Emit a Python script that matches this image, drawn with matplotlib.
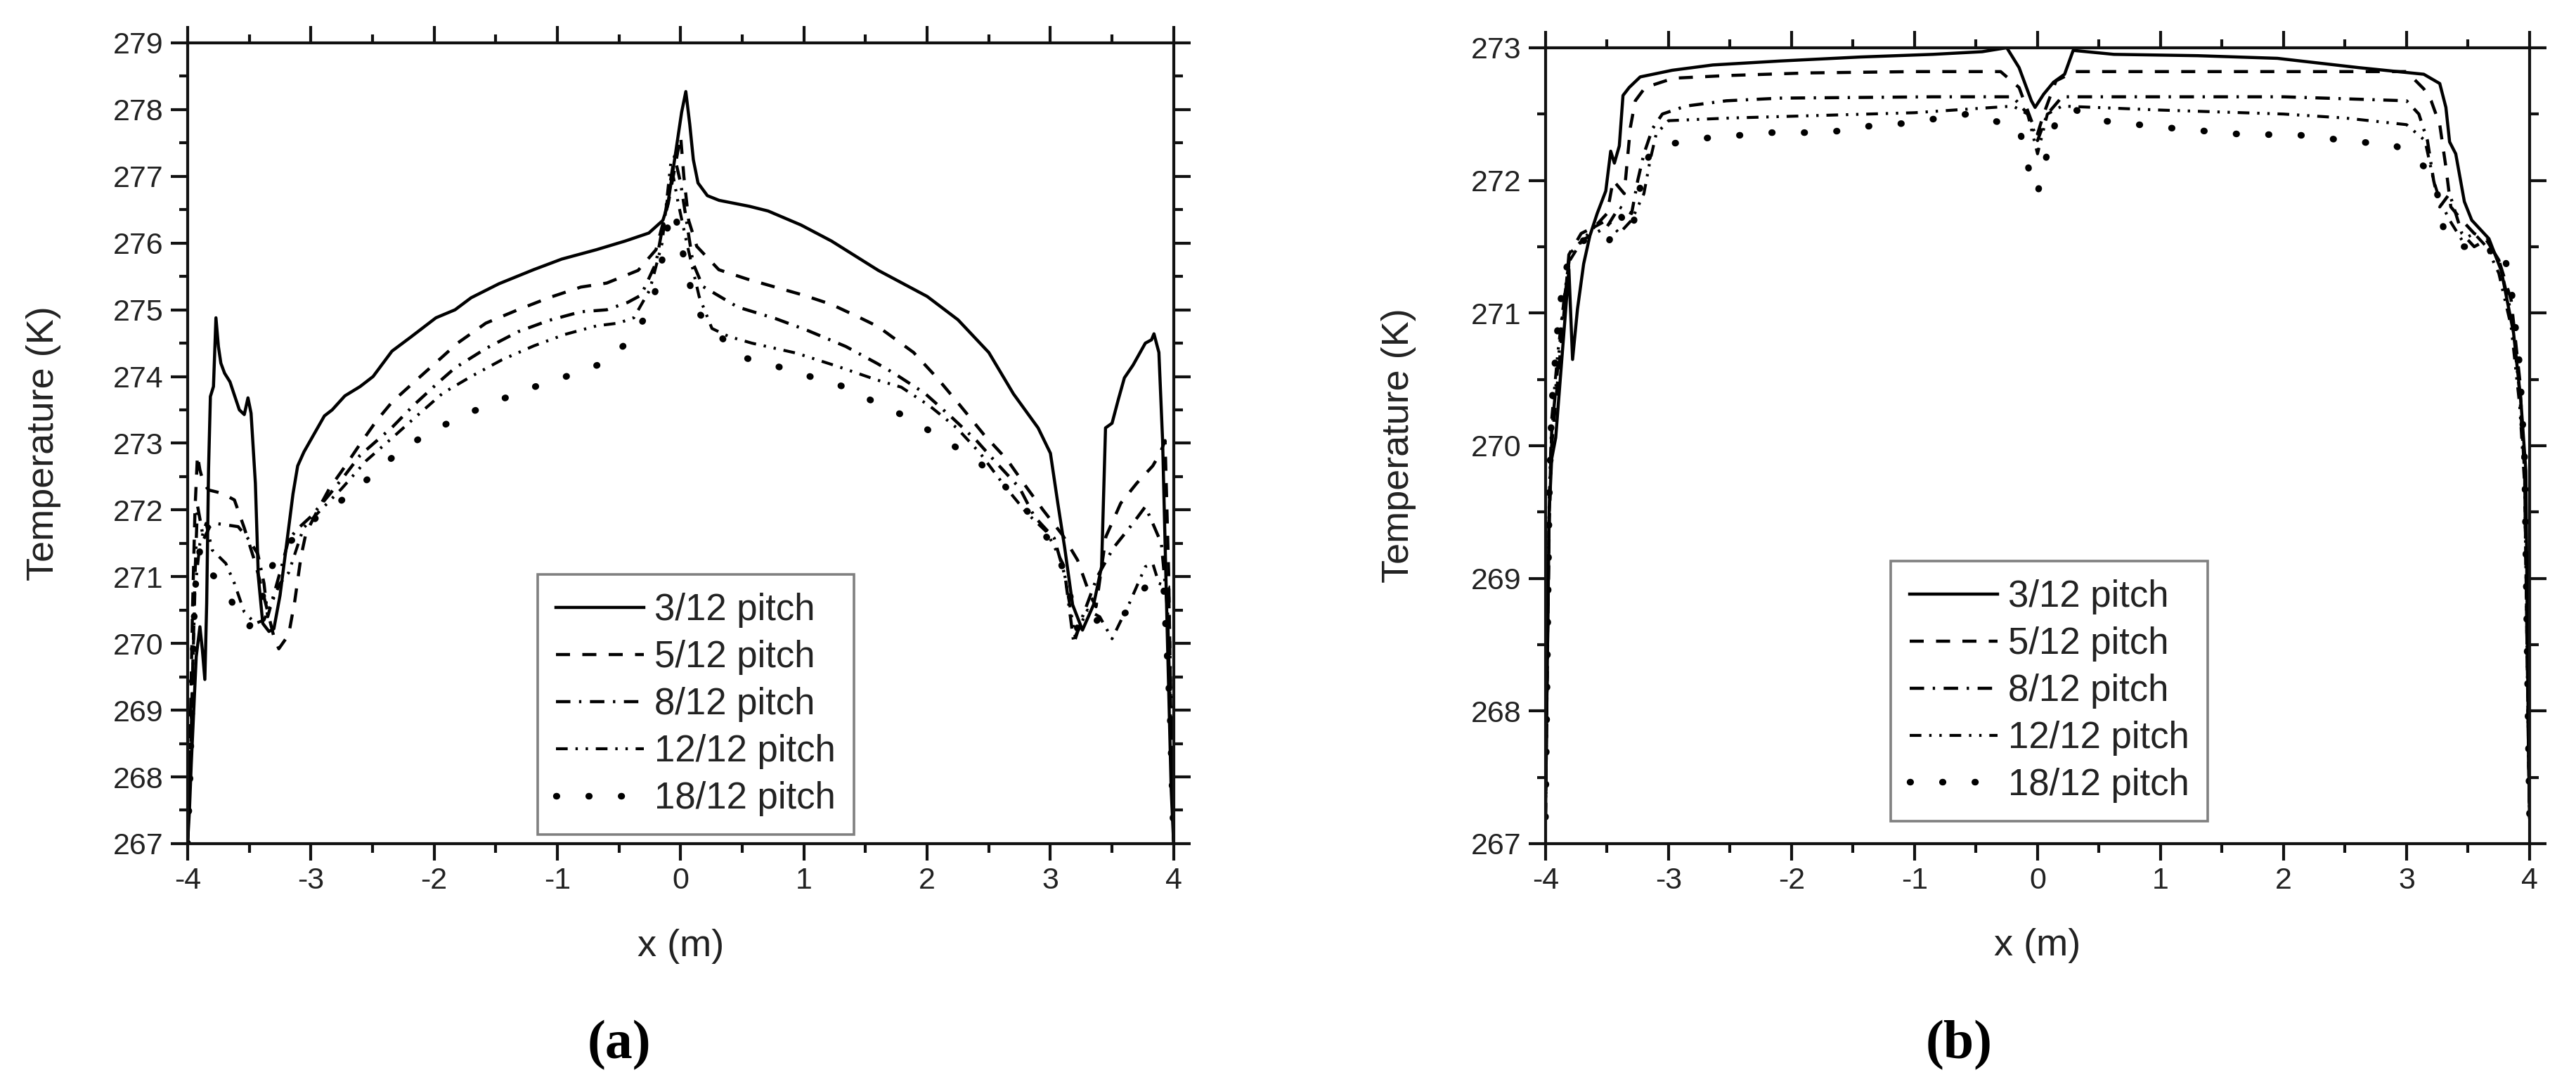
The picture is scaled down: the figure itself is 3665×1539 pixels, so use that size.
import matplotlib
matplotlib.use("Agg")
import matplotlib.pyplot as plt
from matplotlib.ticker import MultipleLocator, FormatStrFormatter

# ---------------- data : panel (a) ----------------
LABELS = ["3/12 pitch", "5/12 pitch", "8/12 pitch", "12/12 pitch", "18/12 pitch"]

A_X_3 = [-4.0, -3.985, -3.97, -3.95, -3.93, -3.9, -3.88, -3.86, -3.845, -3.83, -3.815, -3.79, -3.77, -3.75,
         -3.73, -3.70, -3.656, -3.62, -3.58, -3.54, -3.51, -3.485, -3.45, -3.426, -3.39, -3.34, -3.30, -3.25,
         -3.20, -3.145, -3.107, -3.056, -2.967, -2.89, -2.827, -2.724, -2.60, -2.495, -2.342, -2.19, -1.985,
         -1.83, -1.70, -1.474, -1.194, -0.964, -0.684, -0.45, -0.258, -0.144, -0.106, -0.049, 0.008, 0.042,
         0.074, 0.103, 0.141, 0.217, 0.312, 0.559, 0.71, 0.977, 1.224, 1.604, 2.0, 2.25, 2.5, 2.7, 2.9, 3.0,
         3.06, 3.116, 3.18, 3.26, 3.35, 3.415, 3.447, 3.50, 3.55, 3.60, 3.67, 3.77, 3.82, 3.84, 3.88, 3.91,
         3.95, 3.98, 4.0]
A_T_3 = [267.0, 267.5, 268.2, 269.0, 269.8, 270.25, 269.9, 269.46, 270.6, 272.6, 273.7, 273.85, 274.88, 274.45,
         274.2, 274.05, 273.92, 273.72, 273.5, 273.43, 273.68, 273.45, 272.4, 271.0, 270.3, 270.18, 270.22,
         270.72, 271.44, 272.24, 272.66, 272.87, 273.16, 273.41, 273.5, 273.71, 273.85, 274.0, 274.38, 274.59,
         274.88, 275.0, 275.18, 275.39, 275.6, 275.76, 275.9, 276.03, 276.15, 276.34, 276.56, 277.25, 277.96,
         278.27, 277.78, 277.25, 276.9, 276.71, 276.64, 276.55, 276.48, 276.27, 276.03, 275.59, 275.2, 274.85,
         274.36, 273.74, 273.23, 272.85, 272.1, 271.43, 270.58, 270.2, 270.58, 271.15, 273.23, 273.3, 273.65,
         273.98, 274.17, 274.5, 274.55, 274.64, 274.36, 273.04, 270.0, 267.8, 267.0]

A_X_5 = [-4.0, -3.98, -3.96, -3.94, -3.92, -3.90, -3.87, -3.83, -3.72, -3.62, -3.54, -3.45, -3.36, -3.30, -3.26,
         -3.18, -3.13, -3.08, -3.04, -2.95, -2.85, -2.72, -2.6, -2.47, -2.34, -2.16, -1.96, -1.81, -1.58, -1.32,
         -1.07, -0.81, -0.6, -0.345, -0.2, -0.1, -0.03, 0.0, 0.026, 0.065, 0.131, 0.31, 0.54, 0.767, 0.995,
         1.224, 1.433, 1.60, 1.89, 2.08, 2.27, 2.46, 2.65, 2.81, 2.94, 3.1, 3.22, 3.32, 3.37, 3.45, 3.57, 3.70,
         3.83, 3.89, 3.93, 3.96, 3.98, 4.0]
A_T_5 = [267.0, 268.5, 270.5, 272.0, 272.82, 272.6, 272.4, 272.3, 272.25, 272.15, 271.73, 271.2, 270.55, 270.1,
         269.92, 270.13, 270.64, 271.3, 271.65, 271.98, 272.32, 272.66, 272.99, 273.33, 273.62, 273.92, 274.25,
         274.5, 274.8, 275.0, 275.18, 275.34, 275.4, 275.59, 275.9, 276.6, 277.3, 277.6, 277.0, 276.34, 275.95,
         275.6, 275.46, 275.34, 275.22, 275.08, 274.9, 274.75, 274.36, 273.98, 273.56, 273.13, 272.75, 272.33,
         272.0, 271.62, 271.25, 270.73, 270.55, 271.6, 272.1, 272.4, 272.66, 272.85, 273.04, 271.0, 268.5, 267.0]

A_X_8 = [-4.0, -3.98, -3.96, -3.94, -3.92, -3.87, -3.82, -3.78, -3.70, -3.59, -3.50, -3.43, -3.38, -3.35, -3.29,
         -3.23, -3.18, -3.10, -3.0, -2.85, -2.72, -2.6, -2.47, -2.34, -2.16, -1.96, -1.83, -1.58, -1.32, -1.07,
         -0.81, -0.6, -0.43, -0.32, -0.2, -0.12, -0.05, 0.0, 0.05, 0.1, 0.18, 0.464, 0.767, 1.03, 1.34, 1.59,
         1.73, 1.98, 2.21, 2.4, 2.56, 2.75, 2.87, 3.03, 3.12, 3.19, 3.26, 3.38, 3.51, 3.67, 3.77, 3.83, 3.9,
         3.95, 3.98, 4.0]
A_T_8 = [267.0, 268.0, 269.5, 271.0, 272.07, 271.56, 271.75, 271.8, 271.78, 271.75, 271.55, 271.34, 270.9, 270.4,
         270.8, 271.2, 271.56, 271.73, 271.9, 272.23, 272.53, 272.82, 273.03, 273.24, 273.58, 273.92, 274.13,
         274.42, 274.67, 274.84, 274.97, 275.0, 275.11, 275.22, 275.7, 276.5, 277.3, 276.9, 276.3, 275.7,
         275.35, 275.04, 274.87, 274.69, 274.45, 274.2, 274.05, 273.75, 273.37, 273.04, 272.71, 272.33, 271.9,
         271.58, 271.0, 270.0, 270.4, 271.0, 271.43, 271.8, 272.05, 271.8, 271.5, 270.5, 268.5, 267.0]

A_X_12 = [-4.0, -3.98, -3.96, -3.94, -3.9, -3.85, -3.80, -3.69, -3.62, -3.54, -3.45, -3.38, -3.32, -3.25, -3.18,
          -3.06, -2.93, -2.75, -2.55, -2.34, -2.14, -1.93, -1.7, -1.45, -1.19, -0.94, -0.68, -0.505, -0.38,
          -0.25, -0.15, -0.08, -0.02, 0.05, 0.15, 0.254, 0.39, 0.578, 0.94, 1.26, 1.59, 1.79, 2.02, 2.24, 2.43,
          2.62, 2.81, 2.97, 3.1, 3.2, 3.3, 3.4, 3.5, 3.64, 3.77, 3.83, 3.88, 3.96, 3.98, 4.0]
A_T_12 = [267.0, 268.0, 269.5, 270.8, 271.5, 271.8, 271.4, 271.2, 270.9, 270.47, 270.3, 270.35, 270.6, 270.9,
          271.06, 271.73, 271.98, 272.32, 272.74, 273.08, 273.41, 273.75, 274.0, 274.25, 274.46, 274.63, 274.76,
          274.8, 274.88, 275.3, 276.0, 277.2, 276.6, 276.0, 275.2, 274.72, 274.6, 274.5, 274.35, 274.16, 273.95,
          273.84, 273.56, 273.23, 272.85, 272.38, 271.95, 271.67, 271.2, 270.1, 270.5, 270.4, 270.07, 270.6,
          271.15, 271.2, 270.9, 270.85, 269.0, 267.0]

A_X_18 = [-4.0, -3.98, -3.96, -3.94, -3.9, -3.85, -3.78, -3.69, -3.62, -3.566, -3.5, -3.42, -3.35, -3.28, -3.2,
          -3.1, -2.95, -2.8, -2.52, -2.27, -2.0, -1.72, -1.45, -1.21, -0.93, -0.66, -0.4, -0.24, -0.17, -0.1,
          -0.05, 0.0, 0.05, 0.12, 0.2, 0.27, 0.5, 0.787, 1.05, 1.32, 1.57, 1.86, 2.11, 2.4, 2.62, 2.87, 3.03,
          3.14, 3.19, 3.25, 3.35, 3.45, 3.55, 3.65, 3.75, 3.85, 3.92, 3.97, 4.0]
A_T_18 = [267.0, 268.0, 269.5, 270.8, 271.4, 271.1, 271.0, 270.8, 270.55, 270.32, 270.25, 270.5, 271.0, 271.3,
          271.5, 271.6, 271.9, 272.07, 272.49, 272.9, 273.2, 273.45, 273.66, 273.83, 274.0, 274.18, 274.55,
          275.04, 275.53, 276.3, 276.5, 276.0, 275.6, 275.0, 274.85, 274.69, 274.29, 274.15, 274.0, 273.85,
          273.62, 273.37, 273.08, 272.75, 272.38, 271.86, 271.43, 270.96, 270.35, 270.1, 270.3, 270.46, 270.4,
          270.5, 270.8, 271.0, 270.8, 269.0, 267.0]

# ---------------- data : panel (b) ----------------
B_X_3 = [-4.0, -3.99, -3.97, -3.95, -3.917, -3.86, -3.81, -3.78, -3.74, -3.69, -3.64, -3.58, -3.51, -3.47, -3.44,
         -3.40, -3.37, -3.32, -3.23, -2.97, -2.64, -2.09, -1.44, -0.85, -0.45, -0.25, -0.15, -0.05, -0.02, 0.05,
         0.13, 0.22, 0.29, 0.62, 1.3, 1.95, 2.61, 3.14, 3.27, 3.32, 3.35, 3.40, 3.47, 3.53, 3.67, 3.77, 3.87,
         3.93, 3.97, 3.99, 4.0]
B_T_3 = [267.2, 268.0, 269.5, 269.9, 270.06, 270.74, 271.33, 270.65, 271.03, 271.37, 271.58, 271.75, 271.92,
         272.22, 272.13, 272.26, 272.64, 272.7, 272.78, 272.83, 272.87, 272.9, 272.93, 272.95, 272.97, 273.0,
         272.85, 272.6, 272.55, 272.65, 272.74, 272.8, 272.98, 272.95, 272.94, 272.92, 272.85, 272.8, 272.73,
         272.55, 272.29, 272.2, 271.84, 271.7, 271.56, 271.32, 270.85, 270.33, 269.81, 267.8, 267.2]

B_X_5 = [-4.0, -3.99, -3.97, -3.95, -3.9, -3.85, -3.81, -3.71, -3.6, -3.5, -3.45, -3.36, -3.31, -3.27, -3.19,
         -2.96, -2.53, -1.87, -1.0, -0.3, -0.15, -0.05, 0.0, 0.05, 0.15, 0.3, 1.0, 2.0, 3.0, 3.14, 3.2, 3.27,
         3.32, 3.36, 3.45, 3.55, 3.65, 3.75, 3.85, 3.92, 3.96, 3.99, 4.0]
B_T_5 = [267.2, 268.0, 269.4, 270.0, 270.5, 271.0, 271.44, 271.6, 271.65, 271.75, 272.0, 271.9, 272.4, 272.6,
         272.7, 272.77, 272.79, 272.81, 272.82, 272.82, 272.7, 272.45, 272.35, 272.5, 272.75, 272.82, 272.82,
         272.82, 272.82, 272.69, 272.6, 272.42, 272.1, 271.8, 271.7, 271.6, 271.55, 271.4, 271.1, 270.5, 269.8,
         267.8, 267.2]

B_X_8 = [-4.0, -3.99, -3.97, -3.95, -3.9, -3.85, -3.8, -3.7, -3.6, -3.5, -3.4, -3.3, -3.25, -3.2, -3.13, -3.05,
         -2.86, -2.53, -2.09, -0.85, -0.2, -0.08, 0.0, 0.08, 0.2, 1.0, 2.0, 3.0, 3.1, 3.17, 3.22, 3.27, 3.35,
         3.45, 3.55, 3.65, 3.75, 3.85, 3.92, 3.96, 3.99, 4.0]
B_T_8 = [267.2, 268.0, 269.5, 270.1, 270.6, 271.1, 271.45, 271.55, 271.6, 271.65, 271.8, 271.75, 272.0, 272.2,
         272.39, 272.5, 272.56, 272.6, 272.62, 272.63, 272.63, 272.5, 272.3, 272.5, 272.63, 272.63, 272.63,
         272.6, 272.5, 272.3, 272.0, 271.8, 271.9, 271.6, 271.5, 271.55, 271.4, 271.0, 270.4, 269.8, 267.8,
         267.2]

B_X_12 = [-4.0, -3.99, -3.97, -3.95, -3.9, -3.85, -3.8, -3.7, -3.6, -3.5, -3.4, -3.3, -3.2, -3.15, -3.1, -3.0,
          -2.5, -1.0, -0.2, -0.08, 0.0, 0.08, 0.2, 1.0, 2.0, 2.5, 3.0, 3.15, 3.22, 3.27, 3.35, 3.45, 3.55, 3.65,
          3.75, 3.85, 3.92, 3.96, 3.99, 4.0]
B_T_12 = [267.2, 268.0, 269.6, 270.2, 270.7, 271.1, 271.4, 271.55, 271.65, 271.7, 271.6, 271.7, 271.9, 272.15,
          272.35, 272.45, 272.47, 272.51, 272.56, 272.5, 272.2, 272.5, 272.56, 272.53, 272.5, 272.47, 272.42,
          272.3, 272.0, 271.85, 271.7, 271.55, 271.6, 271.5, 271.3, 270.9, 270.3, 269.7, 267.8, 267.2]

B_X_18 = [-4.0, -3.99, -3.97, -3.95, -3.9, -3.85, -3.8, -3.7, -3.6, -3.5, -3.4, -3.3, -3.2, -3.15, -3.1, -2.95,
          -2.68, -2.42, -2.16, -1.88, -1.64, -1.36, -1.08, -0.57, -0.15, -0.05, 0.0, 0.05, 0.15, 0.26, 0.52,
          1.02, 1.62, 2.14, 2.6, 2.9, 3.15, 3.25, 3.3, 3.4, 3.5, 3.6, 3.7, 3.78, 3.85, 3.92, 3.96, 3.99, 4.0]
B_T_18 = [267.2, 268.0, 269.6, 270.3, 270.9, 271.3, 271.4, 271.55, 271.5, 271.5, 271.75, 271.6, 272.1, 272.2,
          272.25, 272.28, 272.32, 272.34, 272.36, 272.36, 272.37, 272.41, 272.43, 272.5, 272.4, 272.0, 271.9,
          272.1, 272.45, 272.55, 272.45, 272.4, 272.35, 272.34, 272.29, 272.27, 272.1, 271.9, 271.64, 271.5,
          271.5, 271.55, 271.45, 271.5, 271.2, 270.6, 269.9, 267.8, 267.2]

X_TICKS = [-4, -3, -2, -1, 0, 1, 2, 3, 4]
A_Y_RANGE = (267, 279)
B_Y_RANGE = (267, 273)

# ---------------- style ----------------
plt.rcParams['font.family'] = ['Liberation Sans', 'DejaVu Sans']
plt.rcParams['lines.scale_dashes'] = False

STYLES = [
    dict(ls='-', lw=1.6),
    dict(ls=(0, (7.2, 6.3)), lw=1.6),
    dict(ls=(0, (7.4, 4.4, 1.2, 4.4)), lw=1.6),
    dict(ls=(0, (6.0, 4.0, 1.2, 4.0, 1.2, 4.0)), lw=1.5),
    dict(ls=(0, (0.3, 16.3)), lw=3.4, dash_capstyle='round'),
]

fig = plt.figure(figsize=(18.33, 7.695), dpi=200)
ax_a = fig.add_axes([0.0728, 0.2203, 0.3827, 0.7401])
ax_b = fig.add_axes([0.5998, 0.2203, 0.3819, 0.7356])

series_a = [(A_X_3, A_T_3), (A_X_5, A_T_5), (A_X_8, A_T_8), (A_X_12, A_T_12), (A_X_18, A_T_18)]
series_b = [(B_X_3, B_T_3), (B_X_5, B_T_5), (B_X_8, B_T_8), (B_X_12, B_T_12), (B_X_18, B_T_18)]


def style_axes(ax, yrange, leg_anchor, ylab_x):
    ax.set_xlim(-4, 4)
    ax.set_ylim(*yrange)
    ax.set_xticks(X_TICKS)
    ax.xaxis.set_minor_locator(MultipleLocator(0.5))
    ax.yaxis.set_major_locator(MultipleLocator(1))
    ax.yaxis.set_minor_locator(MultipleLocator(0.5))
    ax.xaxis.set_major_formatter(FormatStrFormatter('%d'))
    ax.yaxis.set_major_formatter(FormatStrFormatter('%d'))
    for s in ax.spines.values():
        s.set_linewidth(1.5)
        s.set_color('#111111')
    ax.tick_params(which='both', direction='out', top=True, right=True,
                   width=1.5, color='#111111')
    ax.tick_params(which='major', length=8.5, labelsize=15.5, labelcolor='#222222')
    ax.tick_params(axis='x', which='major', pad=3.5)
    ax.tick_params(axis='y', which='major', pad=4)
    ax.tick_params(which='minor', length=4.5)
    ax.set_xlabel('x (m)', fontsize=19.5, color='#222222', va='center')
    ax.xaxis.set_label_coords(0.5, -0.128)
    ax.set_ylabel('Temperature (K)', fontsize=19.5, color='#222222', va='center')
    ax.yaxis.set_label_coords(ylab_x, 0.5)
    leg = ax.legend(loc='lower left', bbox_to_anchor=leg_anchor, borderaxespad=0,
                    fontsize=19, handlelength=2.37, handletextpad=0.28,
                    labelspacing=0.32, borderpad=0.5, fancybox=False,
                    framealpha=1, edgecolor='#808080')
    leg.get_frame().set_linewidth(1.3)
    for t in leg.get_texts():
        t.set_color('#222222')


for ax, series in ((ax_a, series_a), (ax_b, series_b)):
    for (xs, ts), lab, st in zip(series, LABELS, STYLES):
        ax.plot(xs, ts, color='black', label=lab, **st)

style_axes(ax_a, A_Y_RANGE, (0.355, 0.011), -0.146)
style_axes(ax_b, B_Y_RANGE, (0.351, 0.028), -0.149)

fig.text(0.2403, 0.0338, '(a)', family=['Liberation Serif', 'DejaVu Serif'],
         fontweight='bold', fontsize=28, ha='center', va='center')
fig.text(0.7602, 0.0338, '(b)', family=['Liberation Serif', 'DejaVu Serif'],
         fontweight='bold', fontsize=28, ha='center', va='center')

fig.savefig('out.png', dpi=200)
